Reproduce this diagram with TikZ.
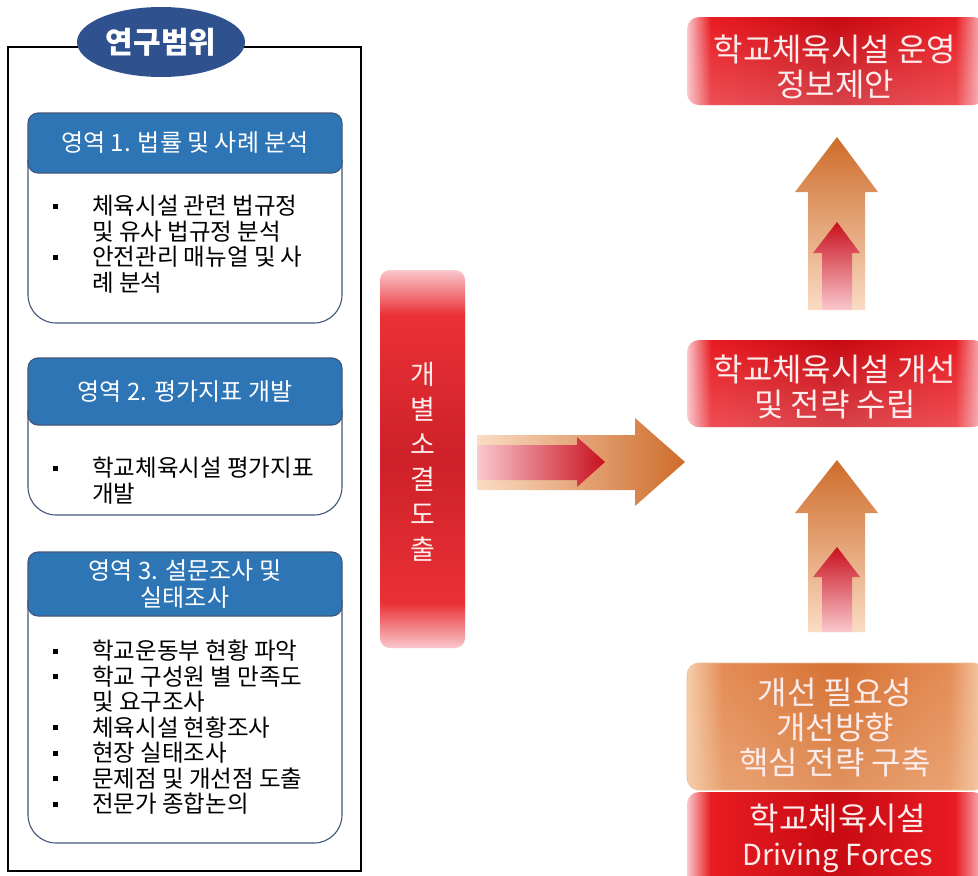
\documentclass[tikz,border=0pt]{standalone}
\usepackage{fontspec}
\setmainfont{Noto Sans CJK KR}
\usetikzlibrary{shapes.geometric,fadings}
\definecolor{navy}{RGB}{47,82,143}
\definecolor{hdrblue}{RGB}{46,117,182}
\definecolor{bdr}{RGB}{65,85,120}
\definecolor{rpink}{RGB}{250,200,205}
\definecolor{rred}{RGB}{232,28,34}
\definecolor{rdark}{RGB}{200,10,18}
\definecolor{opeach}{RGB}{250,220,196}
\definecolor{oorange}{RGB}{206,108,42}
\definecolor{obox}{RGB}{228,140,85}
\definecolor{odark}{RGB}{214,114,52}
\definecolor{oboxlight}{RGB}{246,206,172}
\definecolor{redtip}{RGB}{200,16,30}
\definecolor{redtail}{RGB}{250,200,205}
\definecolor{txtw}{RGB}{253,236,236}
\pgfdeclarehorizontalshading{redh}{100bp}{color(0bp)=(rpink); color(25bp)=(rpink); color(29bp)=(rred); color(50bp)=(rdark); color(70bp)=(rred); color(75bp)=(rpink); color(100bp)=(rpink)}
\pgfdeclareverticalshading{redv}{100bp}{color(0bp)=(rpink); color(25bp)=(rpink); color(31bp)=(rred); color(50bp)=(rdark); color(69bp)=(rred); color(75bp)=(rpink); color(100bp)=(rpink)}
\pgfdeclarehorizontalshading{orgh}{100bp}{color(0bp)=(oboxlight); color(25bp)=(oboxlight); color(31bp)=(obox); color(50bp)=(odark); color(69bp)=(obox); color(75bp)=(oboxlight); color(100bp)=(oboxlight)}
\tikzfading[name=bedge, top color=transparent!100, bottom color=transparent!0]
\tikzfading[name=lredge, left color=transparent!0, middle color=transparent!100, right color=transparent!0]
\newcommand{\bul}{\makebox[39pt][l]{\rule[6pt]{5pt}{5pt}}}
\newcommand{\nob}{\hspace*{39pt}}
\begin{document}
\begin{tikzpicture}[x=1pt,y=-1pt,
  hdr/.style={draw=bdr, line width=1.1pt, fill=hdrblue, rounded corners=10pt, text=white, inner sep=0pt,
    minimum width=314pt, align=center, font=\fontsize{24}{27}\selectfont},
  body/.style={draw=bdr, line width=1.1pt, fill=white, rounded corners=28pt},
  bodytxt/.style={inner sep=0pt, align=left, anchor=north west, font=\fontsize{23.5}{25.5}\selectfont},
  wtxt/.style={inner sep=0pt, align=center, text=txtw, font=\fontsize{32}{35}\selectfont}]
\useasboundingbox (0,0) rectangle (978,876);
\fill[white] (0,0) rectangle (978,876);

% left frame
\draw[line width=1.5pt] (8,47) rectangle (361,871);
\node (scope) [ellipse, fill=navy, minimum width=168pt, minimum height=70pt, inner sep=0pt, text=white,
  font=\bfseries\fontsize{30}{32}\selectfont] at (161,42) {연구범위};

% box 1
\draw[body] (28,160) -- (28,323) -- (342,323) -- (342,160);
\node (h1) [hdr, minimum height=60pt] at (185,143) {\raisebox{-3pt}{영역 1. 법률 및 사례 분석}};
\node (t1) [bodytxt] at (53,195) {\bul 체육시설 관련 법규정\\\nob 및 유사 법규정 분석\\\bul 안전관리 매뉴얼 및 사\\\nob 례 분석};

% box 2
\draw[body] (28,410) -- (28,515) -- (342,515) -- (342,410);
\node (h2) [hdr, minimum height=67pt] at (185,391.5) {\raisebox{-3pt}{영역 2. 평가지표 개발}};
\node (t2) [bodytxt] at (53,457) {\bul 학교체육시설 평가지표\\\nob 개발};

% box 3
\draw[body] (28,600) -- (28,843) -- (342,843) -- (342,600);
\node (h3) [hdr, minimum height=64pt] at (185,584) {영역 3. 설문조사 및\\실태조사};
\node (t3) [bodytxt] at (53,640) {\bul 학교운동부 현황 파악\\\bul 학교 구성원 별 만족도\\\nob 및 요구조사\\\bul 체육시설 현황조사\\\bul 현장 실태조사\\\bul 문제점 및 개선점 도출\\\bul 전문가 종합논의};

% vertical red bar
\shade[rounded corners=10pt, shading=redv] (380,270) rectangle (465,648);
\fill[rounded corners=10pt, rpink, path fading=lredge, fill opacity=0.12] (380,270) rectangle (465,648);
\node (vb) [wtxt, font=\fontsize{27}{35}\selectfont] at (423,461.5) {개\\별\\소\\결\\도\\출};

% horizontal arrow
\shade[left color=opeach, right color=oorange] (477,435) -- (635,435) -- (635,418) -- (685,462) -- (635,506) -- (635,490) -- (477,490) -- cycle;
\shade[left color=redtail, right color=redtip] (477,445) -- (577,445) -- (577,437) -- (605,462) -- (577,487) -- (577,480) -- (477,480) -- cycle;

% right boxes
\shade[rounded corners=12pt, shading=redh] (687,17) rectangle (985,105);
\fill[rounded corners=12pt, rpink, path fading=bedge, fill opacity=0.3] (687,17) rectangle (985,105);
\node (r1) [wtxt] at (835,66.5) {학교체육시설 운영\\정보제안};

\shade[rounded corners=12pt, shading=redh] (687,340) rectangle (985,427);
\fill[rounded corners=12pt, rpink, path fading=bedge, fill opacity=0.3] (687,340) rectangle (985,427);
\node (r2) [wtxt] at (835,387) {학교체육시설 개선\\및 전략 수립};

\shade[rounded corners=12pt, shading=orgh] (687,663) rectangle (985,790);
\fill[rounded corners=12pt, oboxlight, path fading=bedge, fill opacity=0.35] (687,663) rectangle (985,790);
\draw[rounded corners=12pt, oboxlight!80!brown, line width=0.6pt] (687,663) rectangle (985,790);
\node (r3) [wtxt] at (835,727.5) {개선 필요성\\개선방향\\핵심 전략 구축};

\shade[rounded corners=12pt, shading=redh] (687,792) rectangle (985,890);
\node (r4) [wtxt] at (838,838.5) {학교체육시설\\{\fontsize{29}{35}\selectfont Driving Forces}};

% up arrows
\shade[top color=oorange, bottom color=opeach] (808,310) -- (808,192) -- (795,192) -- (837,137) -- (878,192) -- (865,192) -- (865,310) -- cycle;
\shade[top color=redtip, bottom color=redtail] (822,310) -- (822,253) -- (813,253) -- (837,222) -- (860,253) -- (852,253) -- (852,310) -- cycle;

\shade[top color=oorange, bottom color=opeach] (808,632) -- (808,513) -- (795,513) -- (837,460) -- (878,513) -- (865,513) -- (865,632) -- cycle;
\shade[top color=redtip, bottom color=redtail] (822,632) -- (822,577) -- (813,577) -- (837,547) -- (860,577) -- (852,577) -- (852,632) -- cycle;
\end{tikzpicture}
\end{document}
